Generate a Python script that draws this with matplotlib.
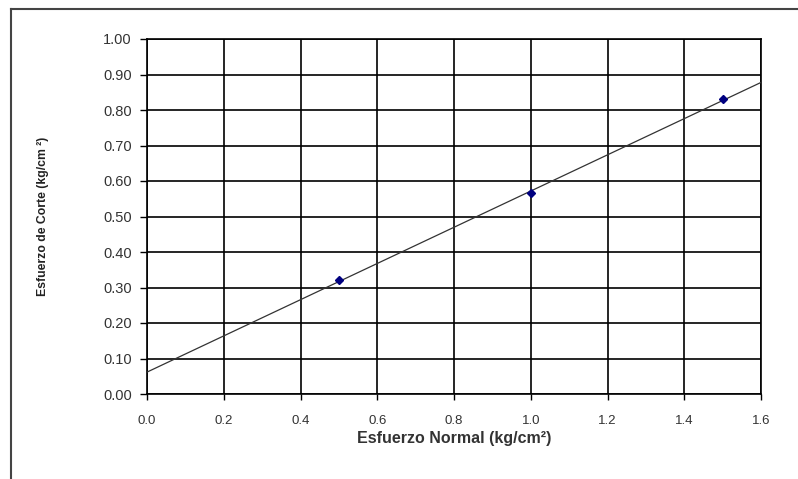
"""Esfuerzo de corte vs esfuerzo normal, con recta de ajuste."""
import numpy as np
import matplotlib
matplotlib.use('Agg')
import matplotlib.pyplot as plt
from matplotlib.lines import Line2D

normal = [0.5, 1.0, 1.5]        # kg/cm2
corte = [0.32, 0.565, 0.83]     # kg/cm2
xticks = [0.0, 0.2, 0.4, 0.6, 0.8, 1.0, 1.2, 1.4, 1.6]
yticks = [0.0, 0.1, 0.2, 0.3, 0.4, 0.5, 0.6, 0.7, 0.8, 0.9, 1.0]

plt.rcParams.update({
    'font.family': ['Liberation Sans', 'DejaVu Sans'],
    'font.size': 9,
})

fig = plt.figure(figsize=(7.98, 4.79), dpi=100)
ax = fig.add_axes([147 / 798, 1 - 394 / 479, 614 / 798, 355 / 479])

# recta de ajuste lineal
m, b = np.polyfit(normal, corte, 1)
xl = np.array([0.0, 1.6])
ax.plot(xl, m * xl + b, color='#333333', lw=0.9, zorder=3)
ax.plot(normal, corte, 'D', color='#000080', ms=4, zorder=4)

ax.set_xlim(0, 1.6)
ax.set_ylim(0, 1.0)
ax.set_xticks(xticks)
ax.set_xticklabels([f'{v:.1f}' for v in xticks], fontsize=9.5, color='#333333')
ax.set_yticks(yticks)
ax.set_yticklabels([f'{v:.2f}' for v in yticks], fontsize=10.5, color='#333333')
ax.tick_params(axis='y', direction='out', length=5, width=1, pad=6)
ax.tick_params(axis='x', direction='out', length=4, width=1, pad=11)
ax.grid(True, color='black', lw=1.2)
for s in ax.spines.values():
    s.set_linewidth(1.2)
    s.set_color('black')

ax.set_xlabel('Esfuerzo Normal (kg/cm\u00b2)', fontsize=11.5, fontweight='bold',
              color='#333333')
ax.xaxis.set_label_coords(0.5, -0.105)
ax.set_ylabel('Esfuerzo de Corte (kg/cm \u00b2)', fontsize=8.8,
              fontweight='bold', color='#222222')
ax.yaxis.set_label_coords(-0.16, 0.5)

# marco exterior (parcialmente recortado)
fig.add_artist(Line2D([11 / 798, 1], [1 - 9 / 479, 1 - 9 / 479],
                      transform=fig.transFigure, color='#444444', lw=1.5))
fig.add_artist(Line2D([11 / 798, 11 / 798], [0, 1 - 9 / 479],
                      transform=fig.transFigure, color='#444444', lw=1.5))

fig.savefig('out.png', dpi=100)
